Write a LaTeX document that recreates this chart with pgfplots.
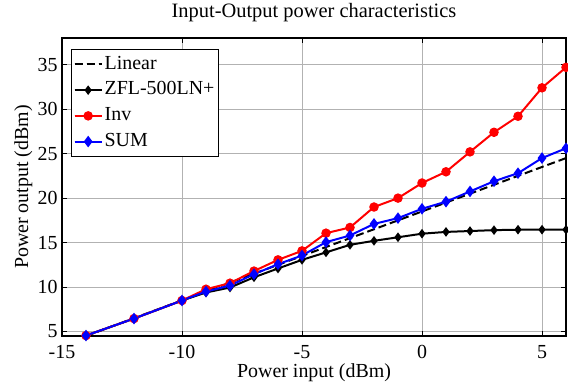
\documentclass[border=0pt]{standalone}
\usepackage{pgfplots}
\pgfplotsset{compat=1.18}
\usepackage{fontspec}
\setmainfont{Liberation Serif}
\begin{document}
\begin{tikzpicture}
\begin{axis}[
  scale only axis, width=504bp, height=298bp,
  xmin=-15, xmax=6, ymin=4.5, ymax=38,
  xtick={-15,-10,-5,0,5}, ytick={5,10,15,20,25,30,35},
  grid=major, grid style={gray!60, line width=0.6pt},
  tick align=inside, axis line style={line width=1.4pt},
  major tick style={black, line width=0.8pt}, major tick length=5bp,
  tick label style={font=\fontsize{20}{22}\selectfont},
  /pgf/number format/assume math mode=true,
  xticklabel style={anchor=base, yshift=-22bp},
  yticklabel style={anchor=east, xshift=-1bp},
  title={Input-Output power characteristics},
  title style={font=\fontsize{20.5}{22}\selectfont, at={(axis description cs:0.5,1)}, anchor=base, yshift=15bp},
  xlabel={Power input (dBm)}, ylabel={Power output (dBm)},
  label style={font=\fontsize{20}{22}\selectfont},
  xlabel style={at={(axis description cs:0.5,0)}, anchor=base, yshift=-41bp},
  ylabel style={at={(axis description cs:-0.052,0.5)}, anchor=south},
  legend style={font=\fontsize{20}{22}\selectfont, draw=black, line width=1.2pt,
    inner sep=2pt, row sep=0pt, at={(axis description cs:0.018,0.963)}, anchor=north west,
    nodes={text height=15.5bp, text depth=6.2bp, inner sep=2bp}},
  legend cell align=left,
  legend image code/.code={\draw[#1] (0bp,0bp) -- (27bp,0bp); \draw[#1, mark repeat=2, mark phase=2] plot coordinates {(0bp,0bp) (13.5bp,0bp) (27bp,0bp)};},
]
\addplot[black, dash pattern=on 8bp off 4bp, line width=2pt] coordinates {(-14,4.5) (6,24.5)};
\addlegendentry{Linear}
\addplot[black, line width=2pt, mark=diamond*, mark size=3.2bp, mark options={solid}] coordinates {
(-14,4.55) (-12,6.46) (-10,8.49) (-9,9.39) (-8,9.95) (-7,11.1) (-6,12.09) (-5,13.06)
(-4,13.9) (-3,14.75) (-2,15.2) (-1,15.6) (0,16.0) (1,16.2) (2,16.3) (3,16.4) (4,16.45) (5,16.45) (6,16.45)};
\addlegendentry{ZFL-500LN+}
\addplot[red, line width=2pt, mark=*, mark size=3.7bp] coordinates {
(-14,4.55) (-12,6.46) (-10,8.49) (-9,9.76) (-8,10.44) (-7,11.8) (-6,13.06) (-5,14.07)
(-4,16.06) (-3,16.7) (-2,19.0) (-1,20.0) (0,21.7) (1,22.96) (2,25.2) (3,27.4) (4,29.2) (5,32.4) (6,34.7)};
\addlegendentry{Inv}
\addplot[blue, line width=2pt, mark=diamond*, mark size=4.2bp] coordinates {
(-14,4.55) (-12,6.46) (-10,8.49) (-9,9.5) (-8,10.17) (-7,11.45) (-6,12.57) (-5,13.55)
(-4,15.05) (-3,15.8) (-2,17.1) (-1,17.75) (0,18.8) (1,19.6) (2,20.75) (3,21.9) (4,22.8) (5,24.5) (6,25.6)};
\addlegendentry{SUM}
\end{axis}
\pgfresetboundingbox
\path[use as bounding box] (current axis.south west) ++(-62bp,-49bp) rectangle ([xshift=2bp,yshift=38bp]current axis.north east);
\end{tikzpicture}
\end{document}
